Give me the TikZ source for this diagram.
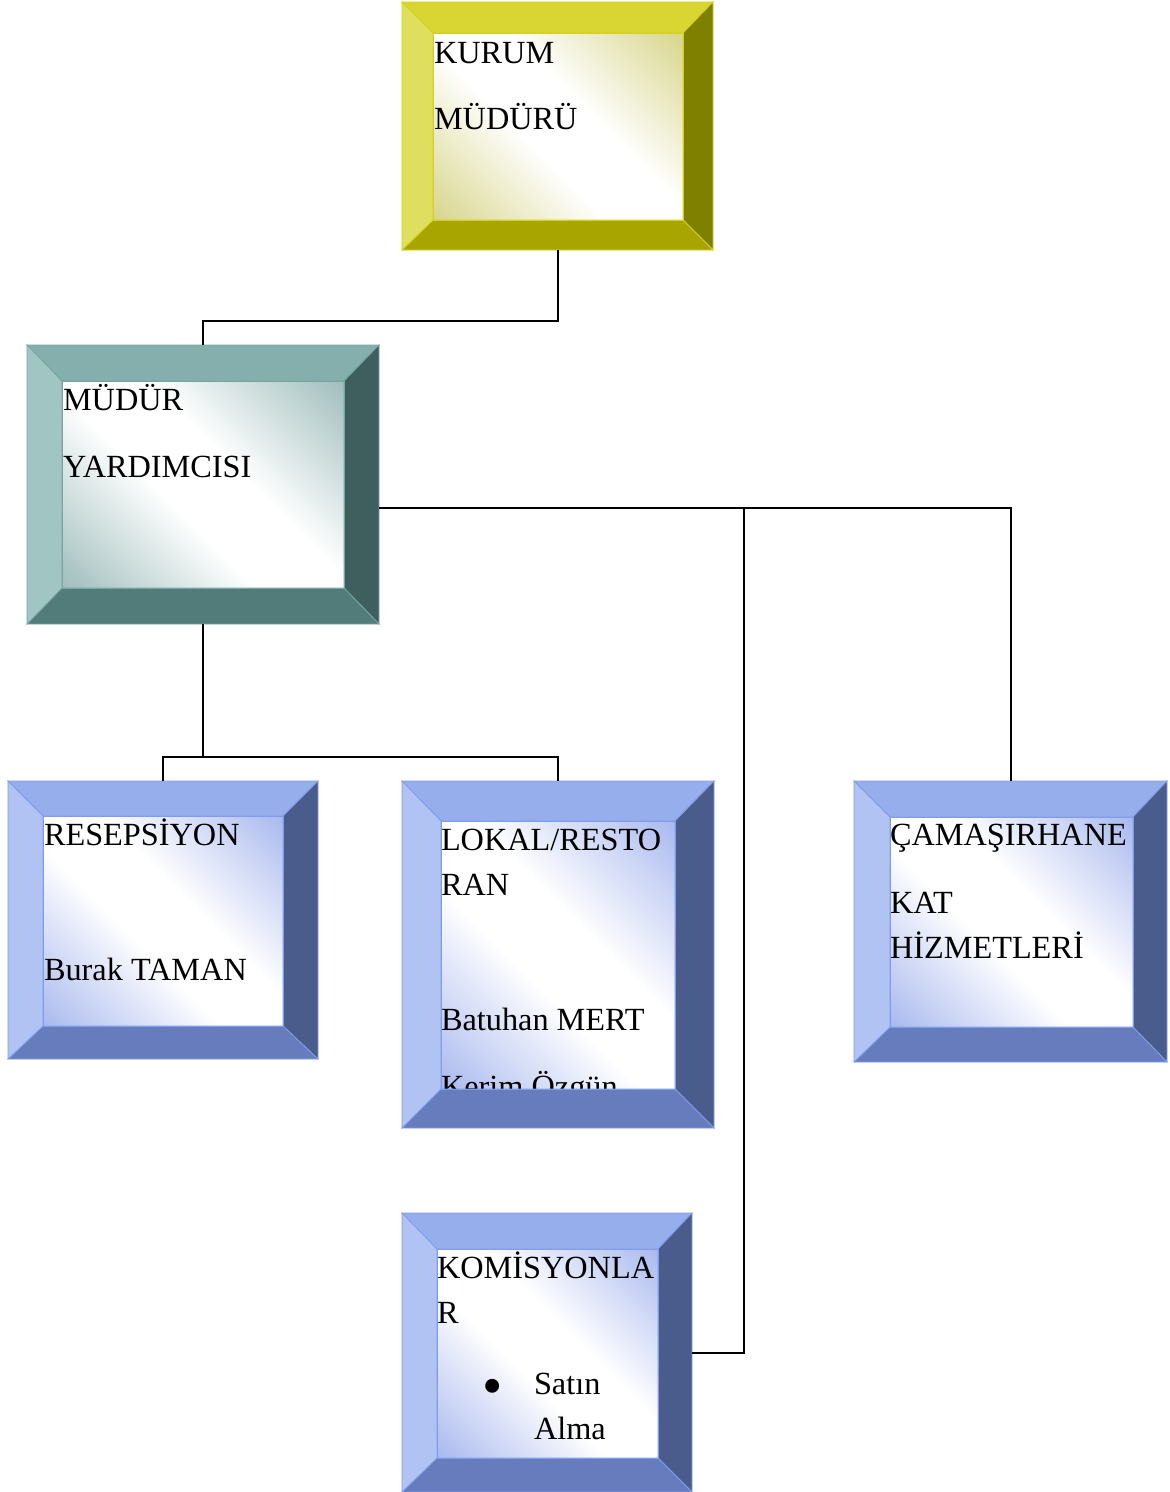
\documentclass[tikz,border=0pt]{standalone}
\usepackage{fontspec}
\setmainfont{Liberation Serif}
\usetikzlibrary{fit}
% yellow scheme
\definecolor{yelltop}{HTML}{D9D532}
\definecolor{yellleft}{HTML}{E0DE5E}
\definecolor{yellright}{HTML}{7F7F00}
\definecolor{yellbot}{HTML}{A8A500}
\definecolor{yelltint}{HTML}{C4C050}
\definecolor{yellline}{HTML}{D4D11E}
% teal scheme
\definecolor{tealtop}{HTML}{84AFAD}
\definecolor{tealleft}{HTML}{A0C5C3}
\definecolor{tealright}{HTML}{3F5F5E}
\definecolor{tealbot}{HTML}{527C7A}
\definecolor{tealtint}{HTML}{6E9C9A}
\definecolor{tealline}{HTML}{78A5A2}
% blue scheme
\definecolor{bluetop}{HTML}{97AEEC}
\definecolor{blueleft}{HTML}{B0C3F2}
\definecolor{blueright}{HTML}{4A5C8C}
\definecolor{bluebot}{HTML}{667CBD}
\definecolor{bluetint}{HTML}{7D95E5}
\definecolor{blueline}{HTML}{7F9DEA}
\pgfdeclarehorizontalshading{yellsh}{100bp}{color(0bp)=(yelltint); color(43bp)=(white); color(57bp)=(white); color(100bp)=(yelltint)}
\pgfdeclarehorizontalshading{tealsh}{100bp}{color(0bp)=(tealtint); color(43bp)=(white); color(57bp)=(white); color(100bp)=(tealtint)}
\pgfdeclarehorizontalshading{bluesh}{100bp}{color(0bp)=(bluetint); color(43bp)=(white); color(57bp)=(white); color(100bp)=(bluetint)}
% #1 name, #2 outer TL, #3 outer BR, #4 inner TL, #5 inner BR, #6 scheme, #7 text
\newcommand\bevbox[7]{%
  \coordinate (#1-o1) at #2; \coordinate (#1-o2) at #3;
  \coordinate (#1-i1) at #4; \coordinate (#1-i2) at #5;
  \node[fit=(#1-o1)(#1-o2), inner sep=0pt, outer sep=0pt] (#1) {};
  \shade[shading=#6sh, shading angle=45] (#1-i1) rectangle (#1-i2);
  #7
  \filldraw[fill=#6top, draw=#6line, bevline] (#1-o1) -- (#1-o1 -| #1-o2) -- (#1-i1 -| #1-i2) -- (#1-i1) -- cycle;
  \filldraw[fill=#6right, draw=#6line, bevline] (#1-o1 -| #1-o2) -- (#1-o2) -- (#1-i2) -- (#1-i1 -| #1-i2) -- cycle;
  \filldraw[fill=#6bot, draw=#6line, bevline] (#1-o2) -- (#1-o2 -| #1-o1) -- (#1-i2 -| #1-i1) -- (#1-i2) -- cycle;
  \filldraw[fill=#6left, draw=#6line, bevline] (#1-o2 -| #1-o1) -- (#1-o1) -- (#1-i1) -- (#1-i2 -| #1-i1) -- cycle;
  \draw[draw=#6line, bevline] (#1-i1) rectangle (#1-i2);
}
\begin{document}
\begin{tikzpicture}[x=1pt,y=-1pt,
  bevline/.style={line width=0.8pt, line join=miter},
  txt/.style={anchor=base west, inner sep=0pt, outer sep=0pt, font=\fontsize{32.3pt}{38pt}\selectfont},
  conn/.style={line width=2pt, draw=black}]
\useasboundingbox (0,0) rectangle (1170,1492);
\fill[white] (0,0) rectangle (1170,1492);

\bevbox{b1}{(402,2)}{(713,250)}{(433,33)}{(683,220)}{yell}{%
  \node[txt] (t1a) at (434,63) {KURUM};
  \node[txt] (t1b) at (434,129) {MÜDÜRÜ};}

\bevbox{b2}{(27,345)}{(379,624)}{(62,381)}{(344,588)}{teal}{%
  \node[txt] (t2a) at (63,410) {MÜDÜR};
  \node[txt] (t2b) at (63,477) {YARDIMCISI};}

\bevbox{b3}{(8,781)}{(318,1059)}{(43,816)}{(283,1026)}{blue}{%
  \node[txt] (t3a) at (44,845) {RESEPSİYON};
  \node[txt] (t3b) at (44,980) {Burak TAMAN};}

\bevbox{b4}{(402,781)}{(714,1128)}{(441,821)}{(675,1089)}{blue}{%
  \node[txt] (t4a) at (441,850) {LOKAL/RESTO};
  \node[txt] (t4b) at (441,895) {RAN};
  \node[txt] (t4c) at (441,1030) {Batuhan MERT};
  \node[txt] (t4d) at (441,1097) {Kerim Özgün};}

\bevbox{b5}{(854,781)}{(1167,1062)}{(890,817)}{(1133,1027)}{blue}{%
  \node[txt] (t5a) at (890,845) {ÇAMAŞIRHANE};
  \node[txt] (t5b) at (890,913) {KAT};
  \node[txt] (t5c) at (890,958) {HİZMETLERİ};}

\bevbox{b6}{(402,1213)}{(692,1492)}{(437,1249)}{(658,1458)}{blue}{%
  \node[txt] (t6a) at (437,1278) {KOMİSYONLA};
  \node[txt] (t6b) at (437,1323) {R};
  \node[inner sep=0pt, outer sep=0pt, anchor=center, font=\fontsize{58pt}{58pt}\selectfont] (t6c) at (493,1392) {•};
  \node[txt] (t6d) at (534,1394) {Satın};
  \node[txt] (t6e) at (534,1439) {Alma};}

% connectors
\draw[conn] (b1.south) -- ++(0,71) -| (b2.north);
\coordinate (r0) at ([yshift=-23.5pt]b2.east);
\draw[conn] (r0) -| (b5.north);
\coordinate (r1) at (744,508);
\draw[conn] (r1) |- (b6.east);
\draw[conn] (b2.south) -- ++(0,133) coordinate (m);
\draw[conn] (b3.north) |- (m) -| (b4.north);
\end{tikzpicture}
\end{document}
